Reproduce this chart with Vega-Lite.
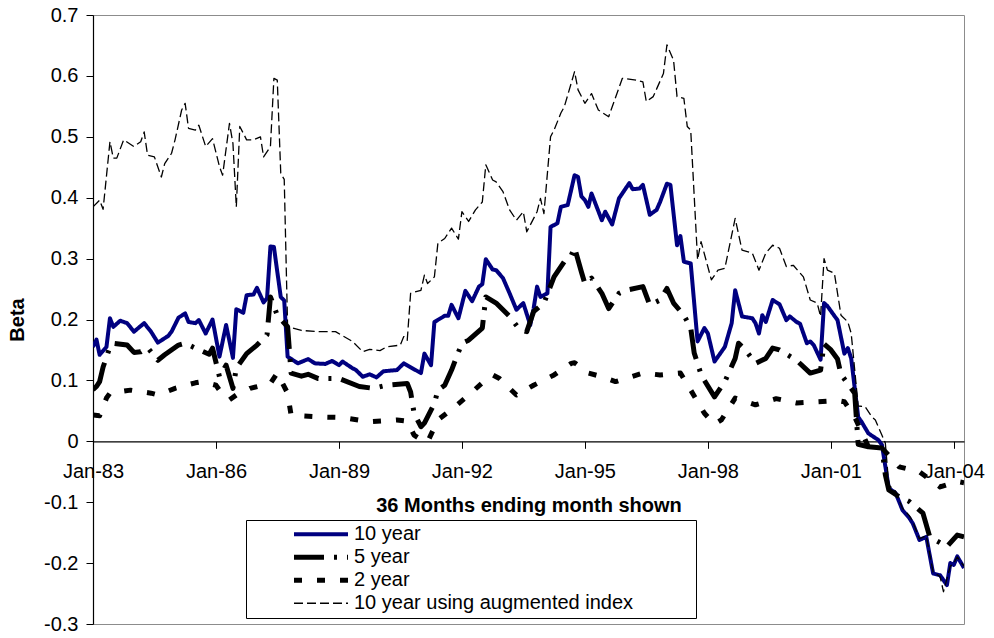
{
"$schema":"https://vega.github.io/schema/vega-lite/v6.json",
"width":871,"height":609,"autosize":"none",
"padding":{"left":93,"top":15,"right":30,"bottom":14},
"background":"white",
"config":{"font":"Liberation Sans","view":{"stroke":"#8c8c8c","strokeWidth":1},"axis":{"labelColor":"black","titleColor":"black","domainColor":"black","tickColor":"black","grid":false}},
"datasets":{"betas":[
{"series":"10 year","month":"1983-01-01","beta":0.155},{"series":"10 year","month":"1983-02-01","beta":0.167},{"series":"10 year","month":"1983-03-01","beta":0.142},{"series":"10 year","month":"1983-05-01","beta":0.155},{"series":"10 year","month":"1983-06-01","beta":0.202},{"series":"10 year","month":"1983-07-01","beta":0.188},{"series":"10 year","month":"1983-09-01","beta":0.198},{"series":"10 year","month":"1983-11-01","beta":0.194},{"series":"10 year","month":"1984-01-01","beta":0.180},{"series":"10 year","month":"1984-04-01","beta":0.194},{"series":"10 year","month":"1984-06-01","beta":0.180},{"series":"10 year","month":"1984-08-01","beta":0.162},{"series":"10 year","month":"1984-11-01","beta":0.173},{"series":"10 year","month":"1984-12-01","beta":0.180},{"series":"10 year","month":"1985-02-01","beta":0.203},{"series":"10 year","month":"1985-04-01","beta":0.210},{"series":"10 year","month":"1985-05-01","beta":0.196},{"series":"10 year","month":"1985-07-01","beta":0.194},{"series":"10 year","month":"1985-08-01","beta":0.199},{"series":"10 year","month":"1985-10-01","beta":0.177},{"series":"10 year","month":"1985-12-01","beta":0.200},{"series":"10 year","month":"1986-02-01","beta":0.139},{"series":"10 year","month":"1986-04-01","beta":0.191},{"series":"10 year","month":"1986-06-01","beta":0.137},{"series":"10 year","month":"1986-07-01","beta":0.217},{"series":"10 year","month":"1986-09-01","beta":0.211},{"series":"10 year","month":"1986-10-01","beta":0.240},{"series":"10 year","month":"1986-12-01","beta":0.241},{"series":"10 year","month":"1987-01-01","beta":0.252},{"series":"10 year","month":"1987-03-01","beta":0.228},{"series":"10 year","month":"1987-04-01","beta":0.235},{"series":"10 year","month":"1987-05-01","beta":0.320},{"series":"10 year","month":"1987-06-01","beta":0.319},{"series":"10 year","month":"1987-08-01","beta":0.237},{"series":"10 year","month":"1987-09-01","beta":0.231},{"series":"10 year","month":"1987-10-01","beta":0.139},{"series":"10 year","month":"1988-01-01","beta":0.128},{"series":"10 year","month":"1988-04-01","beta":0.135},{"series":"10 year","month":"1988-06-01","beta":0.128},{"series":"10 year","month":"1988-09-01","beta":0.127},{"series":"10 year","month":"1988-11-01","beta":0.132},{"series":"10 year","month":"1989-01-01","beta":0.125},{"series":"10 year","month":"1989-02-01","beta":0.131},{"series":"10 year","month":"1989-05-01","beta":0.120},{"series":"10 year","month":"1989-06-01","beta":0.117},{"series":"10 year","month":"1989-08-01","beta":0.106},{"series":"10 year","month":"1989-10-01","beta":0.110},{"series":"10 year","month":"1989-12-01","beta":0.105},{"series":"10 year","month":"1990-02-01","beta":0.115},{"series":"10 year","month":"1990-06-01","beta":0.117},{"series":"10 year","month":"1990-08-01","beta":0.128},{"series":"10 year","month":"1991-01-01","beta":0.112},{"series":"10 year","month":"1991-02-01","beta":0.144},{"series":"10 year","month":"1991-04-01","beta":0.125},{"series":"10 year","month":"1991-05-01","beta":0.196},{"series":"10 year","month":"1991-08-01","beta":0.206},{"series":"10 year","month":"1991-09-01","beta":0.206},{"series":"10 year","month":"1991-10-01","beta":0.224},{"series":"10 year","month":"1991-12-01","beta":0.202},{"series":"10 year","month":"1992-02-01","beta":0.247},{"series":"10 year","month":"1992-04-01","beta":0.230},{"series":"10 year","month":"1992-06-01","beta":0.254},{"series":"10 year","month":"1992-07-01","beta":0.258},{"series":"10 year","month":"1992-08-01","beta":0.299},{"series":"10 year","month":"1992-10-01","beta":0.282},{"series":"10 year","month":"1992-11-01","beta":0.281},{"series":"10 year","month":"1993-01-01","beta":0.268},{"series":"10 year","month":"1993-03-01","beta":0.243},{"series":"10 year","month":"1993-05-01","beta":0.216},{"series":"10 year","month":"1993-07-01","beta":0.227},{"series":"10 year","month":"1993-09-01","beta":0.191},{"series":"10 year","month":"1993-10-01","beta":0.218},{"series":"10 year","month":"1993-11-01","beta":0.254},{"series":"10 year","month":"1993-12-01","beta":0.237},{"series":"10 year","month":"1994-02-01","beta":0.243},{"series":"10 year","month":"1994-03-01","beta":0.352},{"series":"10 year","month":"1994-05-01","beta":0.358},{"series":"10 year","month":"1994-06-01","beta":0.385},{"series":"10 year","month":"1994-08-01","beta":0.388},{"series":"10 year","month":"1994-10-01","beta":0.437},{"series":"10 year","month":"1994-11-01","beta":0.434},{"series":"10 year","month":"1994-12-01","beta":0.402},{"series":"10 year","month":"1995-01-01","beta":0.396},{"series":"10 year","month":"1995-02-01","beta":0.385},{"series":"10 year","month":"1995-03-01","beta":0.407},{"series":"10 year","month":"1995-06-01","beta":0.363},{"series":"10 year","month":"1995-07-01","beta":0.377},{"series":"10 year","month":"1995-09-01","beta":0.356},{"series":"10 year","month":"1995-11-01","beta":0.399},{"series":"10 year","month":"1996-02-01","beta":0.424},{"series":"10 year","month":"1996-03-01","beta":0.414},{"series":"10 year","month":"1996-05-01","beta":0.415},{"series":"10 year","month":"1996-06-01","beta":0.421},{"series":"10 year","month":"1996-08-01","beta":0.372},{"series":"10 year","month":"1996-10-01","beta":0.380},{"series":"10 year","month":"1996-11-01","beta":0.393},{"series":"10 year","month":"1997-01-01","beta":0.423},{"series":"10 year","month":"1997-02-01","beta":0.421},{"series":"10 year","month":"1997-04-01","beta":0.322},{"series":"10 year","month":"1997-05-01","beta":0.337},{"series":"10 year","month":"1997-06-01","beta":0.295},{"series":"10 year","month":"1997-08-01","beta":0.292},{"series":"10 year","month":"1997-10-01","beta":0.164},{"series":"10 year","month":"1997-12-01","beta":0.186},{"series":"10 year","month":"1998-01-01","beta":0.177},{"series":"10 year","month":"1998-03-01","beta":0.131},{"series":"10 year","month":"1998-06-01","beta":0.155},{"series":"10 year","month":"1998-08-01","beta":0.194},{"series":"10 year","month":"1998-09-01","beta":0.248},{"series":"10 year","month":"1998-11-01","beta":0.205},{"series":"10 year","month":"1999-02-01","beta":0.202},{"series":"10 year","month":"1999-03-01","beta":0.194},{"series":"10 year","month":"1999-04-01","beta":0.177},{"series":"10 year","month":"1999-05-01","beta":0.207},{"series":"10 year","month":"1999-06-01","beta":0.196},{"series":"10 year","month":"1999-08-01","beta":0.232},{"series":"10 year","month":"1999-10-01","beta":0.225},{"series":"10 year","month":"1999-12-01","beta":0.199},{"series":"10 year","month":"2000-01-01","beta":0.205},{"series":"10 year","month":"2000-03-01","beta":0.196},{"series":"10 year","month":"2000-04-01","beta":0.193},{"series":"10 year","month":"2000-06-01","beta":0.161},{"series":"10 year","month":"2000-07-01","beta":0.164},{"series":"10 year","month":"2000-08-01","beta":0.158},{"series":"10 year","month":"2000-10-01","beta":0.134},{"series":"10 year","month":"2000-11-01","beta":0.227},{"series":"10 year","month":"2000-12-01","beta":0.222},{"series":"10 year","month":"2001-02-01","beta":0.206},{"series":"10 year","month":"2001-03-01","beta":0.199},{"series":"10 year","month":"2001-05-01","beta":0.144},{"series":"10 year","month":"2001-06-01","beta":0.153},{"series":"10 year","month":"2001-07-01","beta":0.136},{"series":"10 year","month":"2001-09-01","beta":0.040},{"series":"10 year","month":"2001-10-01","beta":0.032},{"series":"10 year","month":"2001-12-01","beta":0.013},{"series":"10 year","month":"2002-03-01","beta":0.002},{"series":"10 year","month":"2002-04-01","beta":-0.006},{"series":"10 year","month":"2002-06-01","beta":-0.077},{"series":"10 year","month":"2002-08-01","beta":-0.085},{"series":"10 year","month":"2002-10-01","beta":-0.113},{"series":"10 year","month":"2002-12-01","beta":-0.126},{"series":"10 year","month":"2003-01-01","beta":-0.135},{"series":"10 year","month":"2003-03-01","beta":-0.162},{"series":"10 year","month":"2003-05-01","beta":-0.157},{"series":"10 year","month":"2003-07-01","beta":-0.217},{"series":"10 year","month":"2003-09-01","beta":-0.220},{"series":"10 year","month":"2003-11-01","beta":-0.236},{"series":"10 year","month":"2003-12-01","beta":-0.200},{"series":"10 year","month":"2004-01-01","beta":-0.203},{"series":"10 year","month":"2004-02-01","beta":-0.189},{"series":"10 year","month":"2004-04-01","beta":-0.208},
{"series":"5 year","month":"1983-01-01","beta":0.085},{"series":"5 year","month":"1983-02-01","beta":0.090},{"series":"5 year","month":"1983-03-01","beta":0.098},{"series":"5 year","month":"1983-04-01","beta":0.122},{"series":"5 year","month":"1983-06-01","beta":0.155},{"series":"5 year","month":"1983-07-01","beta":0.161},{"series":"5 year","month":"1983-11-01","beta":0.158},{"series":"5 year","month":"1984-01-01","beta":0.146},{"series":"5 year","month":"1984-03-01","beta":0.147},{"series":"5 year","month":"1984-05-01","beta":0.154},{"series":"5 year","month":"1984-08-01","beta":0.133},{"series":"5 year","month":"1984-10-01","beta":0.142},{"series":"5 year","month":"1985-02-01","beta":0.158},{"series":"5 year","month":"1985-04-01","beta":0.161},{"series":"5 year","month":"1985-07-01","beta":0.153},{"series":"5 year","month":"1985-11-01","beta":0.143},{"series":"5 year","month":"1985-12-01","beta":0.153},{"series":"5 year","month":"1986-02-01","beta":0.106},{"series":"5 year","month":"1986-04-01","beta":0.125},{"series":"5 year","month":"1986-06-01","beta":0.087},{"series":"5 year","month":"1986-07-01","beta":0.120},{"series":"5 year","month":"1986-10-01","beta":0.144},{"series":"5 year","month":"1987-01-01","beta":0.158},{"series":"5 year","month":"1987-04-01","beta":0.175},{"series":"5 year","month":"1987-05-01","beta":0.237},{"series":"5 year","month":"1987-07-01","beta":0.207},{"series":"5 year","month":"1987-09-01","beta":0.194},{"series":"5 year","month":"1987-10-01","beta":0.188},{"series":"5 year","month":"1987-11-01","beta":0.112},{"series":"5 year","month":"1988-02-01","beta":0.107},{"series":"5 year","month":"1988-04-01","beta":0.110},{"series":"5 year","month":"1988-07-01","beta":0.103},{"series":"5 year","month":"1989-01-01","beta":0.103},{"series":"5 year","month":"1989-07-01","beta":0.090},{"series":"5 year","month":"1989-11-01","beta":0.087},{"series":"5 year","month":"1990-03-01","beta":0.092},{"series":"5 year","month":"1990-09-01","beta":0.095},{"series":"5 year","month":"1990-10-01","beta":0.081},{"series":"5 year","month":"1990-11-01","beta":0.046},{"series":"5 year","month":"1991-01-01","beta":0.024},{"series":"5 year","month":"1991-02-01","beta":0.030},{"series":"5 year","month":"1991-05-01","beta":0.062},{"series":"5 year","month":"1991-06-01","beta":0.084},{"series":"5 year","month":"1991-08-01","beta":0.092},{"series":"5 year","month":"1991-10-01","beta":0.117},{"series":"5 year","month":"1992-01-01","beta":0.161},{"series":"5 year","month":"1992-03-01","beta":0.166},{"series":"5 year","month":"1992-07-01","beta":0.186},{"series":"5 year","month":"1992-08-01","beta":0.237},{"series":"5 year","month":"1992-11-01","beta":0.227},{"series":"5 year","month":"1993-03-01","beta":0.205},{"series":"5 year","month":"1993-06-01","beta":0.183},{"series":"5 year","month":"1993-08-01","beta":0.180},{"series":"5 year","month":"1993-10-01","beta":0.213},{"series":"5 year","month":"1994-01-01","beta":0.227},{"series":"5 year","month":"1994-04-01","beta":0.270},{"series":"5 year","month":"1994-07-01","beta":0.295},{"series":"5 year","month":"1994-09-01","beta":0.305},{"series":"5 year","month":"1994-10-01","beta":0.318},{"series":"5 year","month":"1994-12-01","beta":0.278},{"series":"5 year","month":"1995-01-01","beta":0.259},{"series":"5 year","month":"1995-03-01","beta":0.268},{"series":"5 year","month":"1995-06-01","beta":0.243},{"series":"5 year","month":"1995-08-01","beta":0.218},{"series":"5 year","month":"1995-11-01","beta":0.243},{"series":"5 year","month":"1996-01-01","beta":0.248},{"series":"5 year","month":"1996-06-01","beta":0.254},{"series":"5 year","month":"1996-08-01","beta":0.224},{"series":"5 year","month":"1996-11-01","beta":0.232},{"series":"5 year","month":"1997-01-01","beta":0.251},{"series":"5 year","month":"1997-03-01","beta":0.227},{"series":"5 year","month":"1997-06-01","beta":0.207},{"series":"5 year","month":"1997-08-01","beta":0.186},{"series":"5 year","month":"1997-09-01","beta":0.145},{"series":"5 year","month":"1997-11-01","beta":0.110},{"series":"5 year","month":"1997-12-01","beta":0.100},{"series":"5 year","month":"1998-03-01","beta":0.073},{"series":"5 year","month":"1998-06-01","beta":0.098},{"series":"5 year","month":"1998-09-01","beta":0.136},{"series":"5 year","month":"1998-10-01","beta":0.161},{"series":"5 year","month":"1998-12-01","beta":0.150},{"series":"5 year","month":"1999-03-01","beta":0.128},{"series":"5 year","month":"1999-06-01","beta":0.136},{"series":"5 year","month":"1999-08-01","beta":0.153},{"series":"5 year","month":"1999-10-01","beta":0.150},{"series":"5 year","month":"2000-03-01","beta":0.133},{"series":"5 year","month":"2000-07-01","beta":0.112},{"series":"5 year","month":"2000-10-01","beta":0.117},{"series":"5 year","month":"2000-11-01","beta":0.160},{"series":"5 year","month":"2001-01-01","beta":0.150},{"series":"5 year","month":"2001-03-01","beta":0.135},{"series":"5 year","month":"2001-04-01","beta":0.110},{"series":"5 year","month":"2001-08-01","beta":0.079},{"series":"5 year","month":"2001-09-01","beta":-0.005},{"series":"5 year","month":"2001-12-01","beta":-0.009},{"series":"5 year","month":"2002-04-01","beta":-0.011},{"series":"5 year","month":"2002-05-01","beta":-0.055},{"series":"5 year","month":"2002-06-01","beta":-0.080},{"series":"5 year","month":"2002-09-01","beta":-0.091},{"series":"5 year","month":"2002-12-01","beta":-0.099},{"series":"5 year","month":"2003-04-01","beta":-0.118},{"series":"5 year","month":"2003-06-01","beta":-0.157},{"series":"5 year","month":"2003-11-01","beta":-0.173},{"series":"5 year","month":"2004-02-01","beta":-0.154},{"series":"5 year","month":"2004-04-01","beta":-0.157},
{"series":"2 year","month":"1983-01-01","beta":0.043},{"series":"2 year","month":"1983-03-01","beta":0.042},{"series":"2 year","month":"1983-05-01","beta":0.071},{"series":"2 year","month":"1983-06-01","beta":0.079},{"series":"2 year","month":"1983-12-01","beta":0.084},{"series":"2 year","month":"1984-06-01","beta":0.079},{"series":"2 year","month":"1984-08-01","beta":0.076},{"series":"2 year","month":"1985-01-01","beta":0.087},{"series":"2 year","month":"1985-03-01","beta":0.090},{"series":"2 year","month":"1985-07-01","beta":0.096},{"series":"2 year","month":"1985-09-01","beta":0.098},{"series":"2 year","month":"1986-01-01","beta":0.092},{"series":"2 year","month":"1986-02-01","beta":0.084},{"series":"2 year","month":"1986-05-01","beta":0.068},{"series":"2 year","month":"1986-07-01","beta":0.076},{"series":"2 year","month":"1986-11-01","beta":0.087},{"series":"2 year","month":"1987-05-01","beta":0.095},{"series":"2 year","month":"1987-07-01","beta":0.112},{"series":"2 year","month":"1987-10-01","beta":0.079},{"series":"2 year","month":"1987-11-01","beta":0.043},{"series":"2 year","month":"1988-01-01","beta":0.042},{"series":"2 year","month":"1988-07-01","beta":0.040},{"series":"2 year","month":"1989-02-01","beta":0.039},{"series":"2 year","month":"1989-10-01","beta":0.032},{"series":"2 year","month":"1990-06-01","beta":0.035},{"series":"2 year","month":"1990-09-01","beta":0.033},{"series":"2 year","month":"1990-11-01","beta":0.010},{"series":"2 year","month":"1991-01-01","beta":0.003},{"series":"2 year","month":"1991-03-01","beta":-0.001},{"series":"2 year","month":"1991-06-01","beta":0.035},{"series":"2 year","month":"1991-11-01","beta":0.057},{"series":"2 year","month":"1992-03-01","beta":0.076},{"series":"2 year","month":"1992-08-01","beta":0.101},{"series":"2 year","month":"1992-10-01","beta":0.109},{"series":"2 year","month":"1992-12-01","beta":0.103},{"series":"2 year","month":"1993-05-01","beta":0.076},{"series":"2 year","month":"1993-10-01","beta":0.092},{"series":"2 year","month":"1994-04-01","beta":0.109},{"series":"2 year","month":"1994-09-01","beta":0.128},{"series":"2 year","month":"1994-10-01","beta":0.129},{"series":"2 year","month":"1995-02-01","beta":0.112},{"series":"2 year","month":"1995-06-01","beta":0.106},{"series":"2 year","month":"1995-10-01","beta":0.098},{"series":"2 year","month":"1996-06-01","beta":0.112},{"series":"2 year","month":"1996-11-01","beta":0.109},{"series":"2 year","month":"1997-05-01","beta":0.112},{"series":"2 year","month":"1997-08-01","beta":0.084},{"series":"2 year","month":"1997-12-01","beta":0.046},{"series":"2 year","month":"1998-03-01","beta":0.028},{"series":"2 year","month":"1998-05-01","beta":0.035},{"series":"2 year","month":"1998-09-01","beta":0.071},{"series":"2 year","month":"1999-03-01","beta":0.060},{"series":"2 year","month":"1999-09-01","beta":0.070},{"series":"2 year","month":"2000-03-01","beta":0.063},{"series":"2 year","month":"2000-09-01","beta":0.065},{"series":"2 year","month":"2001-03-01","beta":0.067},{"series":"2 year","month":"2001-05-01","beta":0.065},{"series":"2 year","month":"2001-08-01","beta":0.040},{"series":"2 year","month":"2001-12-01","beta":-0.009},{"series":"2 year","month":"2002-04-01","beta":-0.011},{"series":"2 year","month":"2002-09-01","beta":-0.042},{"series":"2 year","month":"2003-03-01","beta":-0.050},{"series":"2 year","month":"2003-09-01","beta":-0.075},{"series":"2 year","month":"2004-02-01","beta":-0.066},{"series":"2 year","month":"2004-04-01","beta":-0.068},
{"series":"10 year using augmented index","month":"1983-01-01","beta":0.385},{"series":"10 year using augmented index","month":"1983-03-01","beta":0.396},{"series":"10 year using augmented index","month":"1983-04-01","beta":0.381},{"series":"10 year using augmented index","month":"1983-06-01","beta":0.492},{"series":"10 year using augmented index","month":"1983-07-01","beta":0.465},{"series":"10 year using augmented index","month":"1983-08-01","beta":0.465},{"series":"10 year using augmented index","month":"1983-10-01","beta":0.495},{"series":"10 year using augmented index","month":"1984-01-01","beta":0.484},{"series":"10 year using augmented index","month":"1984-03-01","beta":0.492},{"series":"10 year using augmented index","month":"1984-04-01","beta":0.508},{"series":"10 year using augmented index","month":"1984-05-01","beta":0.470},{"series":"10 year using augmented index","month":"1984-07-01","beta":0.467},{"series":"10 year using augmented index","month":"1984-09-01","beta":0.434},{"series":"10 year using augmented index","month":"1984-10-01","beta":0.456},{"series":"10 year using augmented index","month":"1984-12-01","beta":0.473},{"series":"10 year using augmented index","month":"1985-01-01","beta":0.495},{"series":"10 year using augmented index","month":"1985-03-01","beta":0.544},{"series":"10 year using augmented index","month":"1985-04-01","beta":0.555},{"series":"10 year using augmented index","month":"1985-05-01","beta":0.514},{"series":"10 year using augmented index","month":"1985-07-01","beta":0.511},{"series":"10 year using augmented index","month":"1985-08-01","beta":0.519},{"series":"10 year using augmented index","month":"1985-10-01","beta":0.484},{"series":"10 year using augmented index","month":"1985-12-01","beta":0.497},{"series":"10 year using augmented index","month":"1986-02-01","beta":0.451},{"series":"10 year using augmented index","month":"1986-03-01","beta":0.437},{"series":"10 year using augmented index","month":"1986-05-01","beta":0.522},{"series":"10 year using augmented index","month":"1986-06-01","beta":0.489},{"series":"10 year using augmented index","month":"1986-07-01","beta":0.385},{"series":"10 year using augmented index","month":"1986-08-01","beta":0.517},{"series":"10 year using augmented index","month":"1986-10-01","beta":0.495},{"series":"10 year using augmented index","month":"1986-12-01","beta":0.495},{"series":"10 year using augmented index","month":"1987-02-01","beta":0.500},{"series":"10 year using augmented index","month":"1987-03-01","beta":0.467},{"series":"10 year using augmented index","month":"1987-05-01","beta":0.484},{"series":"10 year using augmented index","month":"1987-06-01","beta":0.596},{"series":"10 year using augmented index","month":"1987-07-01","beta":0.593},{"series":"10 year using augmented index","month":"1987-08-01","beta":0.440},{"series":"10 year using augmented index","month":"1987-09-01","beta":0.430},{"series":"10 year using augmented index","month":"1987-10-01","beta":0.188},{"series":"10 year using augmented index","month":"1988-02-01","beta":0.182},{"series":"10 year using augmented index","month":"1988-07-01","beta":0.180},{"series":"10 year using augmented index","month":"1988-12-01","beta":0.180},{"series":"10 year using augmented index","month":"1989-05-01","beta":0.164},{"series":"10 year using augmented index","month":"1989-08-01","beta":0.147},{"series":"10 year using augmented index","month":"1989-10-01","beta":0.151},{"series":"10 year using augmented index","month":"1990-01-01","beta":0.149},{"series":"10 year using augmented index","month":"1990-03-01","beta":0.155},{"series":"10 year using augmented index","month":"1990-07-01","beta":0.158},{"series":"10 year using augmented index","month":"1990-08-01","beta":0.172},{"series":"10 year using augmented index","month":"1990-09-01","beta":0.166},{"series":"10 year using augmented index","month":"1990-10-01","beta":0.243},{"series":"10 year using augmented index","month":"1991-01-01","beta":0.248},{"series":"10 year using augmented index","month":"1991-02-01","beta":0.273},{"series":"10 year using augmented index","month":"1991-03-01","beta":0.259},{"series":"10 year using augmented index","month":"1991-05-01","beta":0.270},{"series":"10 year using augmented index","month":"1991-06-01","beta":0.325},{"series":"10 year using augmented index","month":"1991-08-01","beta":0.333},{"series":"10 year using augmented index","month":"1991-10-01","beta":0.350},{"series":"10 year using augmented index","month":"1991-12-01","beta":0.332},{"series":"10 year using augmented index","month":"1992-01-01","beta":0.377},{"series":"10 year using augmented index","month":"1992-03-01","beta":0.361},{"series":"10 year using augmented index","month":"1992-05-01","beta":0.380},{"series":"10 year using augmented index","month":"1992-07-01","beta":0.393},{"series":"10 year using augmented index","month":"1992-08-01","beta":0.454},{"series":"10 year using augmented index","month":"1992-10-01","beta":0.429},{"series":"10 year using augmented index","month":"1992-11-01","beta":0.426},{"series":"10 year using augmented index","month":"1993-01-01","beta":0.410},{"series":"10 year using augmented index","month":"1993-03-01","beta":0.380},{"series":"10 year using augmented index","month":"1993-05-01","beta":0.363},{"series":"10 year using augmented index","month":"1993-07-01","beta":0.377},{"series":"10 year using augmented index","month":"1993-08-01","beta":0.344},{"series":"10 year using augmented index","month":"1993-11-01","beta":0.377},{"series":"10 year using augmented index","month":"1993-12-01","beta":0.399},{"series":"10 year using augmented index","month":"1994-01-01","beta":0.374},{"series":"10 year using augmented index","month":"1994-03-01","beta":0.500},{"series":"10 year using augmented index","month":"1994-04-01","beta":0.511},{"series":"10 year using augmented index","month":"1994-06-01","beta":0.539},{"series":"10 year using augmented index","month":"1994-07-01","beta":0.549},{"series":"10 year using augmented index","month":"1994-09-01","beta":0.588},{"series":"10 year using augmented index","month":"1994-10-01","beta":0.607},{"series":"10 year using augmented index","month":"1994-11-01","beta":0.577},{"series":"10 year using augmented index","month":"1995-01-01","beta":0.555},{"series":"10 year using augmented index","month":"1995-03-01","beta":0.571},{"series":"10 year using augmented index","month":"1995-05-01","beta":0.544},{"series":"10 year using augmented index","month":"1995-08-01","beta":0.533},{"series":"10 year using augmented index","month":"1995-12-01","beta":0.596},{"series":"10 year using augmented index","month":"1996-04-01","beta":0.593},{"series":"10 year using augmented index","month":"1996-06-01","beta":0.590},{"series":"10 year using augmented index","month":"1996-07-01","beta":0.558},{"series":"10 year using augmented index","month":"1996-09-01","beta":0.566},{"series":"10 year using augmented index","month":"1996-12-01","beta":0.604},{"series":"10 year using augmented index","month":"1997-01-01","beta":0.651},{"series":"10 year using augmented index","month":"1997-03-01","beta":0.626},{"series":"10 year using augmented index","month":"1997-04-01","beta":0.566},{"series":"10 year using augmented index","month":"1997-06-01","beta":0.563},{"series":"10 year using augmented index","month":"1997-07-01","beta":0.517},{"series":"10 year using augmented index","month":"1997-08-01","beta":0.511},{"series":"10 year using augmented index","month":"1997-10-01","beta":0.298},{"series":"10 year using augmented index","month":"1997-11-01","beta":0.328},{"series":"10 year using augmented index","month":"1998-02-01","beta":0.265},{"series":"10 year using augmented index","month":"1998-04-01","beta":0.281},{"series":"10 year using augmented index","month":"1998-06-01","beta":0.284},{"series":"10 year using augmented index","month":"1998-09-01","beta":0.366},{"series":"10 year using augmented index","month":"1998-11-01","beta":0.314},{"series":"10 year using augmented index","month":"1999-02-01","beta":0.309},{"series":"10 year using augmented index","month":"1999-04-01","beta":0.281},{"series":"10 year using augmented index","month":"1999-06-01","beta":0.309},{"series":"10 year using augmented index","month":"1999-08-01","beta":0.322},{"series":"10 year using augmented index","month":"1999-10-01","beta":0.317},{"series":"10 year using augmented index","month":"1999-12-01","beta":0.287},{"series":"10 year using augmented index","month":"2000-02-01","beta":0.289},{"series":"10 year using augmented index","month":"2000-05-01","beta":0.270},{"series":"10 year using augmented index","month":"2000-07-01","beta":0.232},{"series":"10 year using augmented index","month":"2000-09-01","beta":0.227},{"series":"10 year using augmented index","month":"2000-10-01","beta":0.205},{"series":"10 year using augmented index","month":"2000-11-01","beta":0.300},{"series":"10 year using augmented index","month":"2000-12-01","beta":0.281},{"series":"10 year using augmented index","month":"2001-02-01","beta":0.276},{"series":"10 year using augmented index","month":"2001-04-01","beta":0.207},{"series":"10 year using augmented index","month":"2001-06-01","beta":0.196},{"series":"10 year using augmented index","month":"2001-07-01","beta":0.177},{"series":"10 year using augmented index","month":"2001-09-01","beta":0.058},{"series":"10 year using augmented index","month":"2001-11-01","beta":0.057},{"series":"10 year using augmented index","month":"2002-01-01","beta":0.040},{"series":"10 year using augmented index","month":"2002-02-01","beta":0.035},{"series":"10 year using augmented index","month":"2002-04-01","beta":0.010},{"series":"10 year using augmented index","month":"2002-05-01","beta":-0.003},{"series":"10 year using augmented index","month":"2002-06-01","beta":-0.072},{"series":"10 year using augmented index","month":"2002-08-01","beta":-0.082},{"series":"10 year using augmented index","month":"2002-10-01","beta":-0.110},{"series":"10 year using augmented index","month":"2002-12-01","beta":-0.122},{"series":"10 year using augmented index","month":"2003-01-01","beta":-0.132},{"series":"10 year using augmented index","month":"2003-03-01","beta":-0.160},{"series":"10 year using augmented index","month":"2003-05-01","beta":-0.155},{"series":"10 year using augmented index","month":"2003-07-01","beta":-0.215},{"series":"10 year using augmented index","month":"2003-09-01","beta":-0.222},{"series":"10 year using augmented index","month":"2003-10-01","beta":-0.247},{"series":"10 year using augmented index","month":"2003-12-01","beta":-0.205},{"series":"10 year using augmented index","month":"2004-01-01","beta":-0.200},{"series":"10 year using augmented index","month":"2004-02-01","beta":-0.190},{"series":"10 year using augmented index","month":"2004-04-01","beta":-0.205}
]},
"data":{"name":"betas"},
"mark":{"type":"line","strokeJoin":"round","clip":true},
"encoding":{
"x":{"field":"month","type":"temporal","scale":{"type":"utc","domain":[{"year":1983,"month":1,"date":1,"utc":true},{"year":2004,"month":4,"date":1,"utc":true}]},
 "axis":{"offset":-182.7,"values":[{"year":1983,"month":1,"date":1,"utc":true},{"year":1986,"month":1,"date":1,"utc":true},{"year":1989,"month":1,"date":1,"utc":true},{"year":1992,"month":1,"date":1,"utc":true},{"year":1995,"month":1,"date":1,"utc":true},{"year":1998,"month":1,"date":1,"utc":true},{"year":2001,"month":1,"date":1,"utc":true},{"year":2004,"month":1,"date":1,"utc":true}],
 "labelExpr":"utcFormat(datum.value, '%b-%y')","labelFlush":false,"labelOverlap":false,"labelBound":false,"tickSize":7,"labelPadding":13,"labelFontSize":20,"title":"36 Months ending month shown","titleFontSize":20,"titleFontWeight":"bold","titlePadding":14,"domainWidth":1.2,"zindex":0}},
"y":{"field":"beta","type":"quantitative","scale":{"domain":[-0.3,0.7],"nice":false,"zero":false},
 "axis":{"values":[-0.3,-0.2,-0.1,0,0.1,0.2,0.3,0.4,0.5,0.6,0.7],"labelExpr":"'' + round(datum.value*10)/10","tickSize":7,"labelPadding":8,"labelFontSize":20,"title":"Beta","titleFontSize":20,"titleFontWeight":"bold","titlePadding":16,"domainWidth":1.2}},
"color":{"field":"series","type":"nominal","scale":{"domain":["10 year","5 year","2 year","10 year using augmented index"],"range":["#000080","#000000","#000000","#000000"]},
 "legend":{"orient":"none","legendX":153,"legendY":505,"direction":"vertical","title":"\u00a0","titleOrient":"right","titlePadding":60,"padding":3,"strokeColor":"black","fillColor":"white","symbolType":"stroke","symbolSize":2916,"clipHeight":22.5,"symbolOffset":62,"labelOffset":23,"labelFontSize":20,"labelColor":"black","labelLimit":500,"symbolStrokeWidth":4.5,"rowPadding":0,
  "encode":{"symbols":{"update":{"strokeWidth":{"signal":"datum.value === '10 year using augmented index' ? 1.3 : datum.value === '10 year' ? 4 : 5"}}}}}},
"strokeDash":{"field":"series","type":"nominal","scale":{"domain":["10 year","5 year","2 year","10 year using augmented index"],"range":[[1,0],[30,10,3,10],[8,15],[9,4]]}},
"strokeWidth":{"condition":[{"test":"datum.series === '10 year using augmented index'","value":1.3},{"test":"datum.series === '10 year'","value":4}],"value":5}
}
}
